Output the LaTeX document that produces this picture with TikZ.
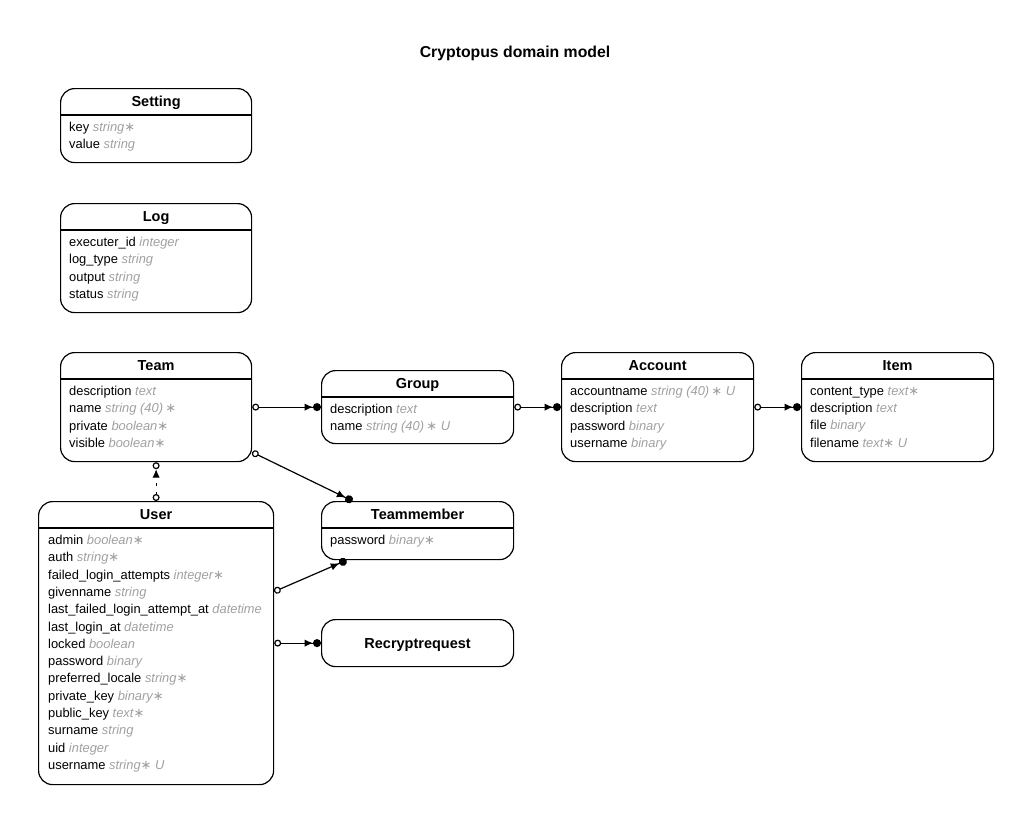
\documentclass[tikz,border=0pt]{standalone}
\usepackage{fontspec}
\setmainfont{Liberation Sans}
\newfontfamily\symfont{DejaVu Sans}
\usepackage{tikz}
\usetikzlibrary{arrows.meta}
\usetikzlibrary{calc}

\definecolor{typegray}{RGB}{160,160,160}
\newcommand{\attrtype}[1]{{\color{typegray}\itshape #1}}
\newcommand{\req}{{\symfont\fontsize{13}{13}\selectfont ∗}}

\tikzset{
  entity/.style={draw, rounded corners=14pt, line width=1.2pt, anchor=north west, inner sep=0pt},
  enttitle/.style={font=\bfseries\fontsize{14.5}{16}\selectfont, anchor=base, inner sep=0pt},
  attrs/.style={font=\fontsize{12.9}{17.3}\selectfont, align=left, anchor=north west, inner sep=0pt},
  divider/.style={line width=1.2pt},
  rel/.style={line width=1.2pt, {Circle[open,length=7pt,width=7pt]}-{Latex[length=8.5pt,width=7.5pt]Circle[length=8pt,width=8pt]}},
  inherit/.style={line width=1.2pt, dash pattern=on 3pt off 6pt, {Circle[open,length=7pt,width=7pt]}-{Latex[length=8.5pt,width=7.5pt]Circle[open,length=7pt,width=7pt]}}
}

\begin{document}
\begin{tikzpicture}[x=1pt,y=-1pt]
\useasboundingbox (0,0) rectangle (1031,823);
\node[font=\bfseries\fontsize{15.8}{18}\selectfont, anchor=base] (title) at (515,57) {Cryptopus domain model};

% boxes
\node[entity, minimum width=191pt, minimum height=74pt] (setting) at (60,88) {};
\node[entity, minimum width=191pt, minimum height=109pt] (log) at (60,203) {};
\node[entity, minimum width=191pt, minimum height=109pt] (team) at (60,352) {};
\node[entity, minimum width=192pt, minimum height=73pt] (group) at (321,370) {};
\node[entity, minimum width=192pt, minimum height=109pt] (account) at (561,352) {};
\node[entity, minimum width=192pt, minimum height=109pt] (item) at (801,352) {};
\node[entity, minimum width=235pt, minimum height=283pt] (user) at (38,501) {};
\node[entity, minimum width=192pt, minimum height=58pt] (teammember) at (321,501) {};
\node[entity, minimum width=192pt, minimum height=47pt] (recrypt) at (321,619) {};

% names
\node[enttitle] (settingname) at ($(setting.north)+(0,18)$) {Setting};
\node[enttitle] (logname) at ($(log.north)+(0,18)$) {Log};
\node[enttitle] (teamname) at ($(team.north)+(0,18)$) {Team};
\node[enttitle] (groupname) at ($(group.north)+(0,18)$) {Group};
\node[enttitle] (accountname) at ($(account.north)+(0,18)$) {Account};
\node[enttitle] (itemname) at ($(item.north)+(0,18)$) {Item};
\node[enttitle] (username) at ($(user.north)+(0,18)$) {User};
\node[enttitle] (teammembername) at ($(teammember.north)+(0,18)$) {Teammember};
\node[enttitle] (recryptname) at ($(recrypt.center)+(0,5)$) {Recryptrequest};

% dividers
\draw[divider] ($(setting.north west)+(0,27)$) -- ($(setting.north east)+(0,27)$);
\draw[divider] ($(log.north west)+(0,27)$) -- ($(log.north east)+(0,27)$);
\draw[divider] ($(team.north west)+(0,27)$) -- ($(team.north east)+(0,27)$);
\draw[divider] ($(group.north west)+(0,27)$) -- ($(group.north east)+(0,27)$);
\draw[divider] ($(account.north west)+(0,27)$) -- ($(account.north east)+(0,27)$);
\draw[divider] ($(item.north west)+(0,27)$) -- ($(item.north east)+(0,27)$);
\draw[divider] ($(user.north west)+(0,27)$) -- ($(user.north east)+(0,27)$);
\draw[divider] ($(teammember.north west)+(0,27)$) -- ($(teammember.north east)+(0,27)$);

% attributes
\node[attrs] (settingattrs) at ($(setting.north west)+(9,34)$) {\rule{0pt}{9pt}key \attrtype{string\req}\\ value \attrtype{string}};
\node[attrs] (logattrs) at ($(log.north west)+(9,34)$) {\rule{0pt}{9pt}executer\_id \attrtype{integer}\\ log\_type \attrtype{string}\\ output \attrtype{string}\\ status \attrtype{string}};
\node[attrs] (teamattrs) at ($(team.north west)+(9,34)$) {\rule{0pt}{9pt}description \attrtype{text}\\ name \attrtype{string (40)\,\req}\\ private \attrtype{boolean\req}\\ visible \attrtype{boolean\req}};
\node[attrs] (groupattrs) at ($(group.north west)+(9,34)$) {\rule{0pt}{9pt}description \attrtype{text}\\ name \attrtype{string (40)\,\req\ U}};
\node[attrs] (accountattrs) at ($(account.north west)+(9,34)$) {\rule{0pt}{9pt}accountname \attrtype{string (40)\,\req\ U}\\ description \attrtype{text}\\ password \attrtype{binary}\\ username \attrtype{binary}};
\node[attrs] (itemattrs) at ($(item.north west)+(9,34)$) {\rule{0pt}{9pt}content\_type \attrtype{text\req}\\ description \attrtype{text}\\ file \attrtype{binary}\\ filename \attrtype{text\req\ U}};
\node[attrs] (userattrs) at ($(user.north west)+(10,34)$) {\rule{0pt}{9pt}admin \attrtype{boolean\req}\\ auth \attrtype{string\req}\\ failed\_login\_attempts \attrtype{integer\req}\\ givenname \attrtype{string}\\ last\_failed\_login\_attempt\_at \attrtype{datetime}\\ last\_login\_at \attrtype{datetime}\\ locked \attrtype{boolean}\\ password \attrtype{binary}\\ preferred\_locale \attrtype{string\req}\\ private\_key \attrtype{binary\req}\\ public\_key \attrtype{text\req}\\ surname \attrtype{string}\\ uid \attrtype{integer}\\ username \attrtype{string\req\ U}};
\node[attrs] (teammemberattrs) at ($(teammember.north west)+(9,34)$) {\rule{0pt}{9pt}password \attrtype{binary\req}};

% relations
\draw[rel] (team.east) -- (group.west);
\draw[rel] (group.east) -- (account.west);
\draw[rel] (account.east) -- (item.west);
\draw[rel] ($(team.south east)+(0,-10)$) -- ($(teammember.north)+(-65,0)$);
\draw[rel] ($(user.east)+(0,-51.5)$) -- ($(teammember.south)+(-71,0)$);
\draw[rel] (user.east |- recrypt.west) -- (recrypt.west);
\draw[inherit] (user.north) -- (team.south);
\end{tikzpicture}
\end{document}
